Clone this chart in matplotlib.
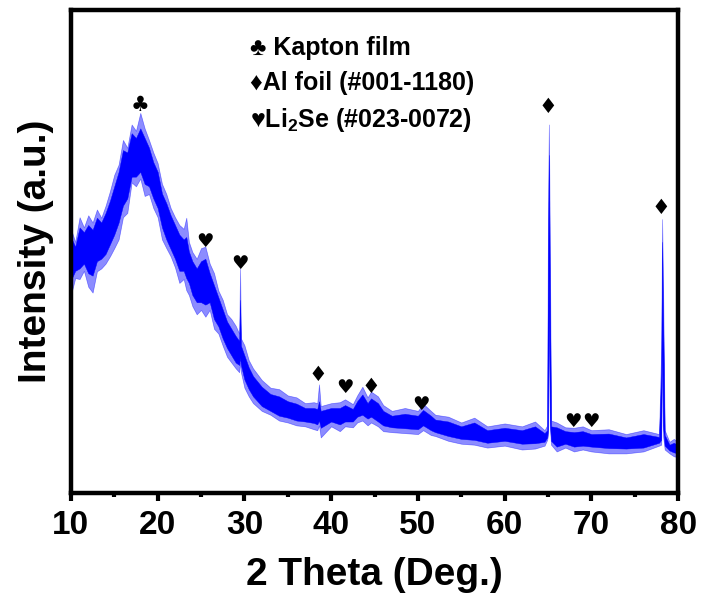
import numpy as np
import matplotlib
matplotlib.use("Agg")
import matplotlib.pyplot as plt
from matplotlib.ticker import MultipleLocator, NullLocator

# XRD pattern (intensity in % of the axis height)
two_theta = [10, 10.5, 11, 11.5, 12, 12.5, 13, 13.5, 14, 14.5, 15, 15.5, 16, 16.5, 17, 17.5,
             18, 18.5, 19, 19.5, 20, 20.5, 21, 21.5, 22, 22.5, 23, 23.3, 23.6, 24, 24.5, 25,
             25.5, 26, 26.5, 27, 27.5, 28, 28.5, 29, 29.4, 29.5, 29.6, 30, 30.5, 31, 32, 33,
             34, 35, 36, 37, 38, 38.4, 38.6, 38.8, 40, 41, 41.6, 42.5, 43, 43.6, 44.2, 44.6,
             45.4, 46, 47, 48.5, 50, 50.6, 51.5, 52, 53.5, 55, 56.5, 58, 60, 62, 63.5, 64.6,
             64.9, 65.0, 65.1, 65.2, 65.35, 66, 67, 68, 69, 70, 72, 74, 76, 77.8, 78.05, 78.15,
             78.25, 78.45, 79, 79.5, 80]
spike_lo = [41.0, 44.5, 44.3, 46.0, 42.7, 41.5, 45.9, 46.5, 47.5, 49.0, 50.7, 52.5, 57.1, 58.0,
            64.3, 63.5, 65.1, 61.5, 61.9, 59.0, 57.1, 52.5, 50.7, 49.0, 46.7, 43.5, 44.3, 42.0,
            41.0, 38.7, 37.0, 37.9, 36.5, 37.9, 34.0, 33.0, 30.5, 28.2, 27.0, 25.8, 25.0, 27.0,
            25.0, 21.8, 20.0, 18.6, 17.0, 16.2, 15.0, 14.6, 14.0, 13.8, 13.2, 13.0, 14.0, 11.5,
            13.8, 12.8, 13.8, 13.6, 14.6, 15.0, 14.0, 14.6, 13.8, 12.8, 12.6, 12.4, 12.2, 13.0,
            12.0, 11.8, 10.8, 10.2, 10.0, 9.4, 9.8, 9.0, 9.2, 9.8, 11.0, 12.0, 40.0, 14.0, 10.0,
            8.6, 9.4, 8.6, 9.0, 8.6, 8.2, 8.2, 8.6, 9.8, 10.0, 30.0, 12.0, 9.0, 8.2, 7.6, 7.4]
spike_hi = [54.7, 52.0, 57.1, 55.0, 57.5, 56.0, 58.7, 57.0, 59.5, 62.5, 65.9, 68.0, 73.1, 71.5,
            76.3, 75.0, 78.7, 75.5, 73.1, 70.5, 68.3, 64.0, 61.9, 59.0, 57.1, 55.5, 54.7, 57.0,
            52.0, 49.9, 48.5, 50.7, 51.0, 47.5, 45.5, 41.9, 40.0, 37.0, 36.0, 34.6, 33.0, 46.5,
            32.0, 30.6, 27.5, 25.8, 23.4, 21.8, 21.5, 20.2, 19.8, 18.6, 18.8, 18.6, 22.5, 18.0,
            18.6, 18.8, 19.4, 18.4, 20.2, 22.0, 19.8, 21.0, 20.0, 18.2, 17.0, 17.6, 17.0, 18.5,
            17.0, 16.2, 15.8, 14.6, 15.6, 13.8, 14.4, 13.8, 14.8, 13.0, 14.0, 60.0, 76.3, 55.0,
            15.0, 14.6, 13.6, 13.5, 13.8, 13.0, 13.2, 12.2, 13.0, 12.2, 30.0, 56.7, 45.0, 13.0,
            10.6, 11.2, 10.6]
core_lo = [44, 46, 46.5, 47.5, 45.5, 45, 48, 48.5, 49.5, 51.5, 53.5, 56, 59.5, 61, 65.5, 65.5,
           66.5, 64, 63.5, 61, 59, 55, 52.5, 50.5, 48.5, 46, 46, 44.5, 43.5, 41, 39.5, 39.5,
           39, 39.5, 36, 34.5, 32, 30, 28.5, 27, 26.5, 28, 26.5, 23.5, 21.5, 20, 18, 17, 16,
           15.6, 15, 14.8, 14.5, 14.2, 15, 13.5, 14.8, 14.2, 14.8, 14.8, 15.8, 16.2, 15.4,
           15.8, 14.8, 14, 13.6, 13.4, 13.2, 14, 13, 12.6, 11.8, 11.2, 11, 10.4, 10.8, 10.2,
           10.3, 10.6, 11.5, 13, 45, 15, 10.8, 9.6, 10.2, 9.6, 9.8, 9.6, 9.3, 9.2, 9.4, 10.4,
           11, 35, 14, 9.8, 8.8, 8.4, 8.2]
core_hi = [53, 51, 55, 54, 55.5, 54.5, 57, 56, 58, 60.5, 63.5, 66.5, 71, 70.5, 74.5, 73.5,
           75.5, 73.5, 71.5, 68.5, 66.5, 62, 60, 57.5, 55.5, 53.5, 52.5, 53, 50, 48, 46.5,
           48, 48.5, 45.5, 43, 40.5, 38, 35.5, 34, 32.5, 31.5, 40, 30.5, 28.5, 26, 24.2, 22,
           20.5, 20, 19, 18.5, 17.6, 17.6, 17.4, 19, 17, 17.6, 17.6, 18.2, 17.4, 19, 20.4, 18.6,
           19.6, 18.6, 17, 16, 16.4, 16, 17.2, 16, 15.2, 14.8, 13.8, 14.6, 13, 13.5, 13, 13.8,
           12.4, 13, 50, 70, 45, 13.8, 13.6, 12.8, 12.6, 12.8, 12.2, 12.3, 11.5, 12.2, 11.6,
           25, 52, 38, 12, 10, 10.4, 9.9]

# phase markers
club_x, club_y = [17.96], [80.3]
al_x = [38.5, 44.6, 65.0, 78.05]
al_y = [24.4, 21.9, 79.9, 59.0]
li2se_x = [25.5, 29.5, 41.6, 50.4, 67.9, 69.9]
li2se_y = [52.0, 47.6, 21.9, 18.4, 14.9, 14.9]

plt.rcParams["mathtext.fontset"] = "custom"
plt.rcParams["mathtext.bf"] = "Liberation Sans:bold"
plt.rcParams["mathtext.rm"] = "Liberation Sans:bold"

sym = ["Liberation Sans", "DejaVu Sans"]

fig = plt.figure(figsize=(7.02, 6.09), dpi=100)
ax = fig.add_axes([0.101, 0.1905, 0.865, 0.793])

ax.fill_between(two_theta, spike_lo, spike_hi, color="#0000ff", alpha=0.45, lw=0.5)
ax.fill_between(two_theta, core_lo, core_hi, color="#0000ff", lw=0.3)

for x, y in zip(club_x, club_y):
    ax.text(x, y, "\u2663", ha="center", va="center", fontsize=15, family="DejaVu Sans")
for x, y in zip(al_x, al_y):
    ax.text(x, y, "\u2666", ha="center", va="center", fontsize=15, family="DejaVu Sans")
for x, y in zip(li2se_x, li2se_y):
    ax.text(x, y, "\u2665", ha="center", va="center", fontsize=14, family="DejaVu Sans")

ax.text(0.295, 0.922, "\u2663 Kapton film", transform=ax.transAxes, fontsize=18,
        fontweight="bold", family=sym, va="center")
ax.text(0.295, 0.848, "\u2666Al foil (#001-1180)", transform=ax.transAxes, fontsize=18,
        fontweight="bold", family=sym, va="center")
ax.text(0.295, 0.772, "\u2665Li$_\\mathbf{2}$Se (#023-0072)", transform=ax.transAxes,
        fontsize=18, fontweight="bold", family=sym, va="center")

ax.set_xlim(10, 80)
ax.set_ylim(0, 100)
ax.xaxis.set_major_locator(MultipleLocator(10))
ax.xaxis.set_minor_locator(MultipleLocator(5))
ax.yaxis.set_major_locator(NullLocator())
ax.tick_params(axis="x", which="major", direction="out", length=6, width=3, pad=6)
ax.tick_params(axis="x", which="minor", direction="out", length=3, width=3)
for s in ax.spines.values():
    s.set_linewidth(3.2)
for lab in ax.get_xticklabels():
    lab.set_family("Liberation Sans")
    lab.set_fontweight("bold")
    lab.set_fontsize(24)

ax.set_xlabel("2 Theta (Deg.)", fontsize=28, fontweight="bold", family="Liberation Sans",
              labelpad=12)
ax.set_ylabel("Intensity (a.u.)", fontsize=28, fontweight="bold", family="Liberation Sans",
              labelpad=12)

fig.savefig("out.png", dpi=100)
